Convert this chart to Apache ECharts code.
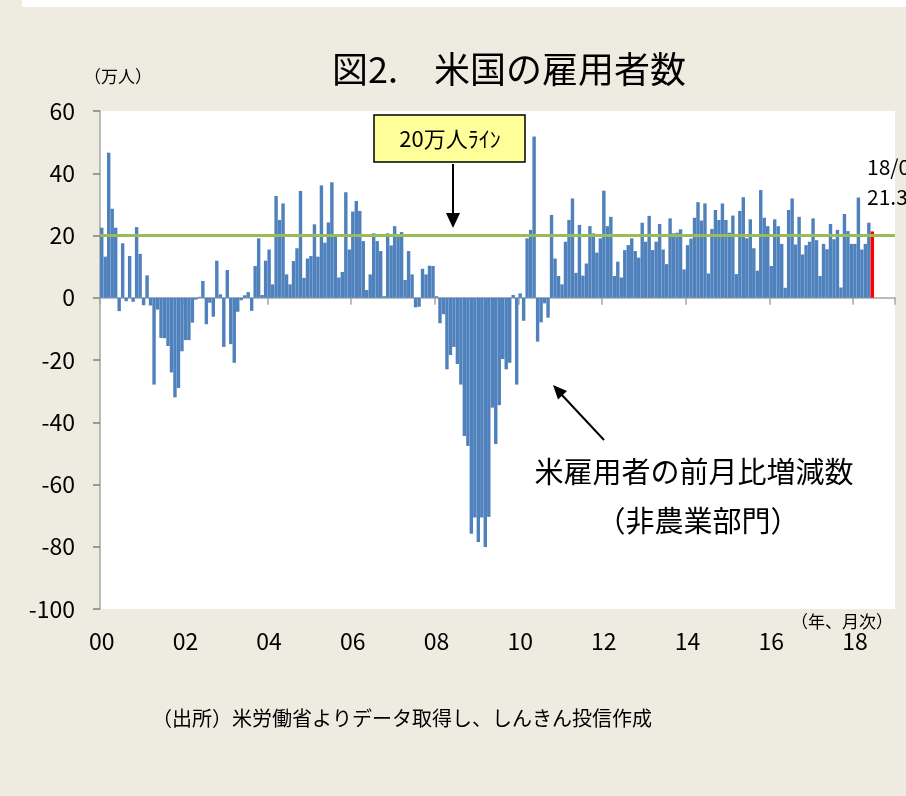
<!DOCTYPE html>
<html>
<head>
<meta charset="utf-8">
<script src="https://cdn.jsdelivr.net/npm/echarts@6/dist/echarts.min.js"></script>
<style>
html,body{margin:0;padding:0;background:#EEECE1;}
#chart{width:906px;height:796px;}
</style>
</head>
<body>
<div id="chart"></div>
<script>
// ---- data (万人, month-on-month change in US non-farm payrolls) ----
const years = ['00','01','02','03','04','05','06','07','08','09','10','11','12','13','14','15','16','17','18'];
const months = ['01','02','03','04','05','06','07','08','09','10','11','12'];
const yearTicks = ['00','02','04','06','08','10','12','14','16','18'];
const yTicks = [60, 40, 20, 0, -20, -40, -60, -80, -100];
const payrollChange = [
  // 2000
  22.5, 13.2, 46.6, 28.6, 22.5, -4.3, 17.5, -1.1, 13.4, -1.3, 22.7, 14.1,
  // 2001
  -2.4, 7.2, -2.5, -27.9, -3.8, -12.9, -13.0, -15.5, -24.0, -32.0, -29.0, -17.2,
  // 2002
  -13.6, -13.6, -8.0, -0.6, 0.3, 5.4, -8.5, -1.6, -6.1, 11.9, 1.1, -15.8,
  // 2003
  8.9, -14.9, -20.9, -4.5, -0.8, 0.8, 1.8, -4.2, 10.2, 19.1, 0.9, 11.9,
  // 2004
  15.5, 4.3, 32.7, 25.0, 30.3, 7.5, 4.3, 11.8, 15.9, 34.3, 6.4, 12.6,
  // 2005
  13.4, 23.6, 13.2, 36.1, 17.7, 24.2, 37.1, 20.1, 6.5, 8.3, 33.9, 15.5,
  // 2006
  27.7, 31.1, 27.9, 18.2, 2.5, 7.5, 20.7, 18.2, 15.0, 0.5, 20.7, 16.8,
  // 2007
  23.0, 19.6, 21.1, 5.7, 15.0, 7.5, -3.1, -2.9, 9.3, 7.5, 10.3, 10.2,
  // 2008
  0.5, -8.2, -5.3, -23.0, -18.4, -15.8, -21.3, -27.9, -44.4, -47.6, -75.8, -70.6,
  // 2009
  -78.5, -70.6, -80.1, -70.4, -35.3, -47.0, -34.5, -19.7, -23.0, -20.9, 0.9, -27.9,
  // 2010
  1.4, -7.4, 19.1, 21.8, 51.8, -14.1, -7.9, -1.8, -6.4, 26.6, 12.6, 7.0,
  // 2011
  4.3, 18.0, 25.0, 31.9, 8.0, 23.4, 7.1, 11.0, 23.0, 20.7, 14.5, 19.1,
  // 2012
  34.4, 23.0, 26.0, 7.0, 11.6, 6.5, 15.3, 16.9, 19.1, 15.0, 12.9, 24.1,
  // 2013
  18.0, 26.3, 15.3, 18.0, 23.7, 15.5, 10.8, 25.5, 20.7, 20.9, 22.0, 9.1,
  // 2014
  16.9, 19.0, 25.7, 30.7, 24.8, 30.3, 7.8, 22.1, 28.2, 25.0, 30.3, 25.0,
  // 2015
  20.9, 26.4, 7.6, 27.9, 32.3, 19.1, 25.2, 15.9, 8.7, 34.6, 25.7, 23.0,
  // 2016
  10.2, 25.2, 23.0, 17.3, 3.2, 28.2, 31.9, 17.1, 26.0, 13.9, 16.9, 18.0,
  // 2017
  25.5, 18.5, 7.0, 17.3, 15.6, 23.7, 18.8, 21.8, 3.3, 26.9, 21.4, 17.3,
  // 2018 (to June)
  17.3, 32.2, 15.5, 17.3, 24.1, 21.3
];
const lineLevel = 20;
const latestLabel = ['18/06', '21.3'];

// ---- build ----
const categories = [];
years.forEach(y => months.forEach(m => categories.push(y + '/' + m)));
const lastIdx = payrollChange.length - 1;
const barData = payrollChange.map((v, i) => i === lastIdx ? {value: v, itemStyle: {color: '#FF0000'}} : v);

const FONT = '"Noto Sans CJK JP", "Noto Sans", sans-serif';
const chart = echarts.init(document.getElementById('chart'), null, {renderer: 'canvas'});

const option = {
  animation: false,
  backgroundColor: '#EEECE1',
  grid: {left: 100, right: 11, top: 111, bottom: 187, show: true, backgroundColor: '#FFFFFF', borderWidth: 0},
  xAxis: [
    {
      type: 'category', data: categories, boundaryGap: true,
      axisLine: {onZero: true, lineStyle: {color: '#A6A6A6', width: 1.5}},
      axisTick: {show: true, interval: 23, length: 7, lineStyle: {color: '#A6A6A6', width: 1.5}},
      axisLabel: {show: false}, splitLine: {show: false}
    },
    {
      type: 'category', data: categories, boundaryGap: true, position: 'bottom',
      axisLine: {show: false, onZero: false}, axisTick: {show: false},
      axisLabel: {
        interval: 23, margin: 21, color: '#000', fontSize: 23, fontFamily: FONT,
        formatter: (v, i) => yearTicks[i / 24]
      },
      splitLine: {show: false}
    }
  ],
  yAxis: {
    type: 'value', min: -100, max: 60, interval: 20,
    axisLine: {show: true, lineStyle: {color: '#A6A6A6', width: 1.5}},
    axisTick: {show: true, length: 7, lineStyle: {color: '#7F7F7F', width: 1.5}},
    axisLabel: {margin: 25, color: '#000', fontSize: 23, fontFamily: FONT,
      formatter: v => yTicks.includes(v) ? String(v) : ''},
    splitLine: {show: false}
  },
  series: [{
    type: 'bar', xAxisIndex: 0, yAxisIndex: 0, data: barData,
    barCategoryGap: '2%',
    itemStyle: {color: '#4F81BD'},
    markLine: {
      silent: true, symbol: 'none', label: {show: false},
      lineStyle: {color: '#9BBB59', width: 3, type: 'solid'},
      data: [{yAxis: lineLevel}]
    }
  }],
  graphic: [
    {type: 'rect', shape: {x: 22, y: 0, width: 884, height: 7}, style: {fill: '#FFFFFF'}, silent: true},
    {type: 'text', x: 332, y: 69, style: {text: '図2.\u3000米国の雇用者数', font: '36px ' + FONT, fill: '#000', textVerticalAlign: 'middle', textAlign: 'left'}},
    {type: 'text', x: 84, y: 77, style: {text: '（万人）', font: '17px ' + FONT, fill: '#000', textVerticalAlign: 'middle'}},
    {type: 'text', x: 842, y: 622, style: {text: '（年、月次）', font: '17px ' + FONT, fill: '#000', textAlign: 'center', textVerticalAlign: 'middle'}},
    {type: 'rect', shape: {x: 374, y: 115, width: 151, height: 47}, style: {fill: '#FFFF99', stroke: '#000', lineWidth: 1.5}, z: 10},
    {type: 'text', x: 450, y: 139, z: 11, style: {text: '20万人ﾗｲﾝ', font: '22px ' + FONT, fill: '#000', textAlign: 'center', textVerticalAlign: 'middle'}},
    {type: 'line', z: 10, shape: {x1: 453, y1: 164, x2: 453, y2: 215}, style: {stroke: '#000', lineWidth: 2}},
    {type: 'polygon', z: 10, shape: {points: [[446, 213], [460, 213], [453, 228]]}, style: {fill: '#000'}},
    {type: 'line', z: 10, shape: {x1: 604, y1: 440, x2: 561, y2: 394}, style: {stroke: '#000', lineWidth: 2}},
    {type: 'polygon', z: 10, shape: {points: [[553, 385], [567, 391], [558, 399.5]]}, style: {fill: '#000'}},
    {type: 'text', x: 694, y: 472, z: 10, style: {text: '米雇用者の前月比増減数', font: '29px ' + FONT, fill: '#000', textAlign: 'center', textVerticalAlign: 'middle'}},
    {type: 'text', x: 698, y: 521, z: 10, style: {text: '（非農業部門）', font: '29px ' + FONT, fill: '#000', textAlign: 'center', textVerticalAlign: 'middle'}},
    {type: 'text', x: 867, y: 167, z: 10, style: {text: latestLabel[0], font: '21px ' + FONT, fill: '#000', textVerticalAlign: 'middle'}},
    {type: 'text', x: 867, y: 197, z: 10, style: {text: latestLabel[1], font: '21px ' + FONT, fill: '#000', textVerticalAlign: 'middle'}},
    {type: 'text', x: 152, y: 718, style: {text: '（出所）米労働省よりデータ取得し、しんきん投信作成', font: '20px ' + FONT, fill: '#000', textVerticalAlign: 'middle'}}
  ]
};
chart.setOption(option);
</script>
</body>
</html>
